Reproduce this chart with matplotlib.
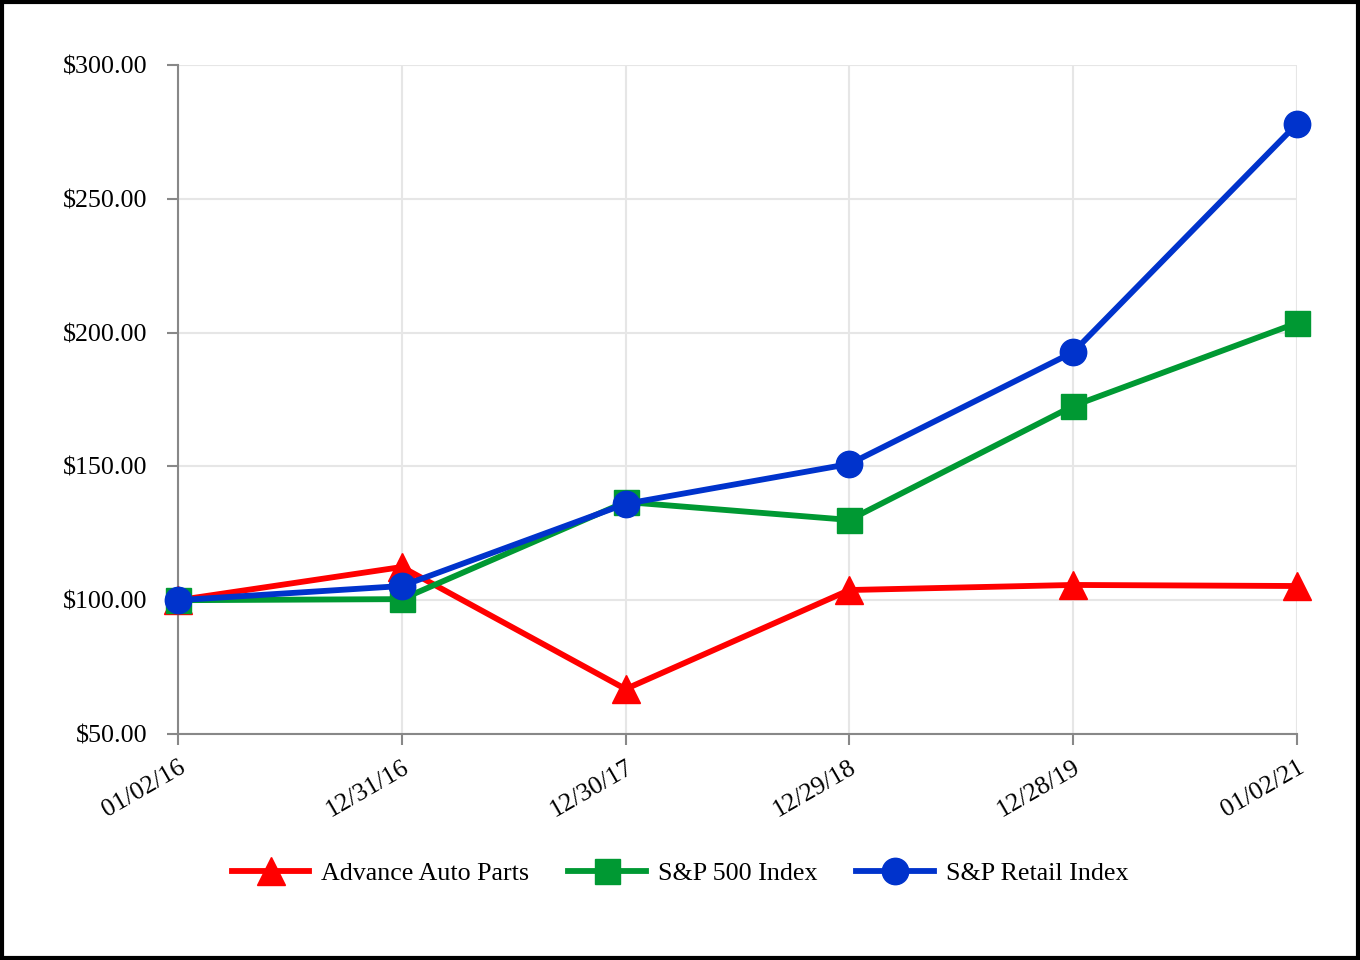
import matplotlib.pyplot as plt
from matplotlib.patches import Rectangle

dates = ["01/02/16", "12/31/16", "12/30/17", "12/29/18", "12/28/19", "01/02/21"]
advance_auto = [100.0, 112.4, 66.8, 103.8, 105.7, 105.3]
sp500 = [100.0, 100.4, 136.7, 130.0, 172.6, 203.6]
sp_retail = [100.0, 105.3, 136.0, 150.9, 192.7, 278.0]
y_ticks = [50, 100, 150, 200, 250, 300]

plt.rcParams['font.family'] = ['Liberation Serif', 'DejaVu Serif']

fig = plt.figure(figsize=(13.6, 9.6), dpi=100)
ax = fig.add_axes([178 / 1360, 1 - 734 / 960, (1297 - 178) / 1360, (734 - 65) / 960])

x = list(range(len(dates)))
ax.plot(x, advance_auto, color="#ff0000", lw=4.2, marker="^", ms=20,
        label="Advance Auto Parts", clip_on=False, zorder=3)
ax.plot(x, sp500, color="#009933", lw=4.2, marker="s", ms=18,
        label="S&P 500 Index", clip_on=False, zorder=4)
ax.plot(x, sp_retail, color="#0033cc", lw=4.2, marker="o", ms=19,
        label="S&P Retail Index", clip_on=False, zorder=5)

ax.set_xlim(0, len(dates) - 1)
ax.set_ylim(50, 300)
ax.set_xticks(x)
ax.set_xticklabels(dates, rotation=30, ha="right", rotation_mode="anchor")
ax.set_yticks(y_ticks)
ax.set_yticklabels(["${:.2f}".format(v) for v in y_ticks])
ax.tick_params(labelsize=18.7, length=8, width=1.5, color="#888888")
ax.tick_params(axis="y", pad=14)
ax.tick_params(axis="x", pad=8)

ax.grid(True, color="#e6e6e6", lw=1.5)
ax.set_axisbelow(True)
for s in ["top", "right"]:
    ax.spines[s].set_visible(False)
for s in ["left", "bottom"]:
    ax.spines[s].set_color("#888888")
    ax.spines[s].set_linewidth(1.5)

fig.legend(loc="center", bbox_to_anchor=(680 / 1360, 1 - 873 / 960), ncol=3,
           frameon=False, fontsize=18.7, handlelength=3.0, columnspacing=1.5,
           handletextpad=0.45)

# black frame around whole figure
fig.patches.append(Rectangle((0.0015, 0.002), 0.997, 0.996, transform=fig.transFigure,
                             fill=False, edgecolor="black", lw=3))

fig.savefig("out.png", dpi=100)
